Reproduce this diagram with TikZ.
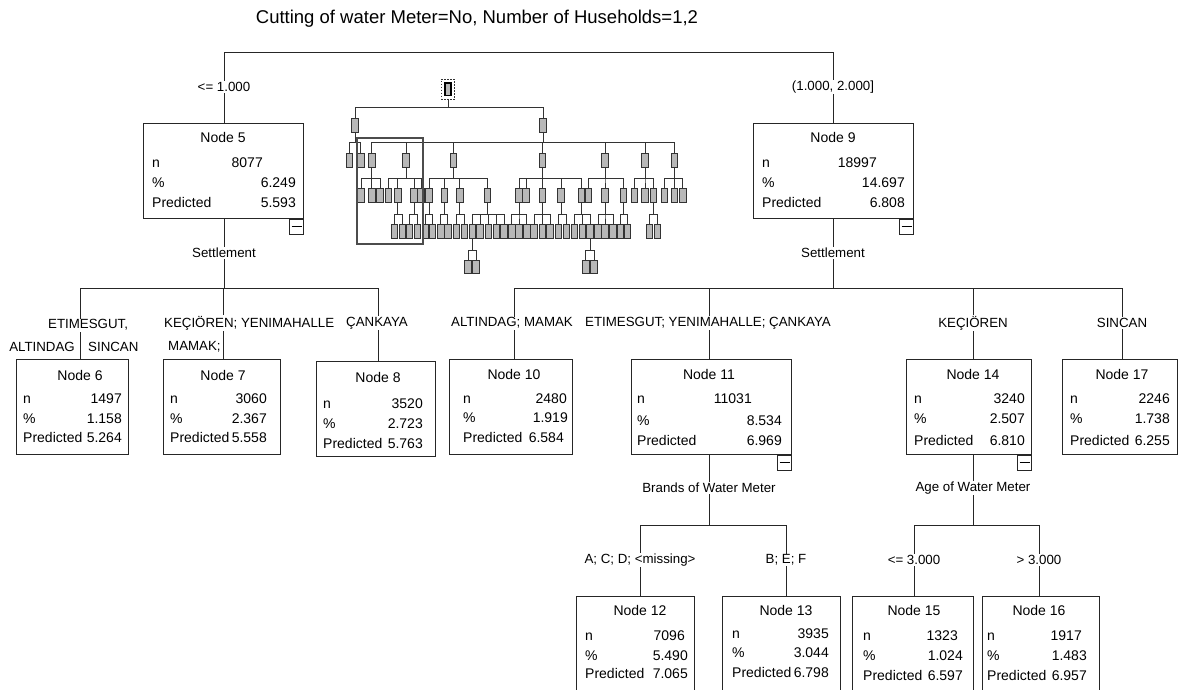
\documentclass[tikz,border=0pt]{standalone}
\usepackage{fontspec}
\setmainfont{Liberation Sans}
\newcommand\tboxrow[6]{\node[txt] (#1l) at (#4,#6+5) {#2}; \node[val] (#1v) at (#5,#6+5) {#3};}
\newcommand\mgrp[5]{%
  \foreach \cx [count=\ci] in {#5} {%
    \node[mbox, anchor=north] (#2\ci) at (\cx,#4) {};
    \draw[mline] (#1.south) -- (#1.south |- 0,#3) -| (#2\ci.north);
  }}
\begin{document}
\begin{tikzpicture}[x=1pt,y=-1pt,
  every node/.style={font=\fontsize{14}{16}\selectfont, inner sep=0pt},
  ln/.style={draw=black!85, line width=0.9pt},
  box/.style={draw=black!85, line width=0.9pt, fill=white, anchor=north west, inner sep=0pt},
  lab/.style={fill=white, inner sep=1pt, font=\fontsize{13.3}{15}\selectfont},
  txt/.style={anchor=base west},
  val/.style={anchor=base east},
  ttl/.style={anchor=base},
  btn/.style={draw=black!85, line width=0.8pt, fill=white, minimum width=14pt, minimum height=15pt, anchor=north east},
  mbox/.style={draw=black!80, fill=black!28, line width=0.8pt, minimum width=6.5pt, minimum height=13.4pt, inner sep=0pt},
  mline/.style={draw=black!80, line width=0.8pt},
]
\fill[white] (0,0) rectangle (1179,689);
\useasboundingbox (0,0) rectangle (1179,689);
\clip (0,0) rectangle (1179,689);

% title
\node[font=\fontsize{18.5}{20}\selectfont] (title) at (477,19) {Cutting of water Meter=No, Number of Husehol{}ds=1,2};

% ---------- boxes ----------
\node[box, minimum width=160pt, minimum height=95pt] (n5) at (143,123) {};
\node[box, minimum width=160pt, minimum height=95pt] (n9) at (753,123) {};
\node[box, minimum width=112pt, minimum height=95pt] (n6) at (16,359) {};
\node[box, minimum width=117pt, minimum height=95pt] (n7) at (163,359) {};
\node[box, minimum width=119pt, minimum height=95pt] (n8) at (316,361) {};
\node[box, minimum width=123pt, minimum height=95pt] (n10) at (449,359) {};
\node[box, minimum width=160pt, minimum height=95pt] (n11) at (631,359) {};
\node[box, minimum width=125pt, minimum height=95pt] (n14) at (906,359) {};
\node[box, minimum width=115pt, minimum height=95pt] (n17) at (1062,359) {};
\node[box, minimum width=118pt, minimum height=110pt] (n12) at (576,596) {};
\node[box, minimum width=118pt, minimum height=110pt] (n13) at (722,596) {};
\node[box, minimum width=121pt, minimum height=110pt] (n15) at (852,596) {};
\node[box, minimum width=117pt, minimum height=110pt] (n16) at (982,596) {};

% minus buttons
\foreach \b in {n5,n9,n11,n14} {
  \node[btn] (\b btn) at (\b.south east) {};
  \draw[line width=0.9pt] ([xshift=2.5pt]\b btn.west) -- ([xshift=-2pt]\b btn.east);
}

% ---------- box contents ----------
\node[ttl] (n5t) at (223,142) {Node 5};
\tboxrow{n5n}{n}{8077}{152}{263}{162}
\tboxrow{n5p}{\%}{6.249}{152}{296}{182}
\tboxrow{n5r}{Predicted}{5.593}{152}{296}{202}

\node[ttl] (n9t) at (833,142) {Node 9};
\tboxrow{n9n}{n}{18997}{762}{877}{162}
\tboxrow{n9p}{\%}{14.697}{762}{905}{182}
\tboxrow{n9r}{Predicted}{6.808}{762}{905}{202}

\node[ttl] (n6t) at (80,380) {Node 6};
\tboxrow{n6n}{n}{1497}{23}{122}{398}
\tboxrow{n6p}{\%}{1.158}{23}{122}{418}
\tboxrow{n6r}{Predicted}{5.264}{23}{122}{437}

\node[ttl] (n7t) at (223,380) {Node 7};
\tboxrow{n7n}{n}{3060}{170}{267}{398}
\tboxrow{n7p}{\%}{2.367}{170}{267}{418}
\tboxrow{n7r}{Predicted}{5.558}{170}{267}{437}

\node[ttl] (n8t) at (378,382) {Node 8};
\tboxrow{n8n}{n}{3520}{323}{423}{403}
\tboxrow{n8p}{\%}{2.723}{323}{423}{423}
\tboxrow{n8r}{Predicted}{5.763}{323}{423}{443}

\node[ttl] (n10t) at (514,379) {Node 10};
\tboxrow{n10n}{n}{2480}{463}{567}{398}
\tboxrow{n10p}{\%}{1.919}{463}{568}{417}
\tboxrow{n10r}{Predicted}{6.584}{463}{564}{437}

\node[ttl] (n11t) at (709,379) {Node 11};
\tboxrow{n11n}{n}{11031}{637}{752}{398}
\tboxrow{n11p}{\%}{8.534}{637}{782}{420}
\tboxrow{n11r}{Predicted}{6.969}{637}{782}{440}

\node[ttl] (n14t) at (973,379) {Node 14};
\tboxrow{n14n}{n}{3240}{914}{1025}{398}
\tboxrow{n14p}{\%}{2.507}{914}{1025}{418}
\tboxrow{n14r}{Predicted}{6.810}{914}{1025}{440}

\node[ttl] (n17t) at (1122,379) {Node 17};
\tboxrow{n17n}{n}{2246}{1070}{1170}{398}
\tboxrow{n17p}{\%}{1.738}{1070}{1170}{418}
\tboxrow{n17r}{Predicted}{6.255}{1070}{1170}{440}

\node[ttl] (n12t) at (640,615) {Node 12};
\tboxrow{n12n}{n}{7096}{585}{685}{635}
\tboxrow{n12p}{\%}{5.490}{585}{688}{655}
\tboxrow{n12r}{Predicted}{7.065}{585}{688}{673}

\node[ttl] (n13t) at (786,615) {Node 13};
\tboxrow{n13n}{n}{3935}{732}{829}{633}
\tboxrow{n13p}{\%}{3.044}{732}{829}{652}
\tboxrow{n13r}{Predicted}{6.798}{732}{829}{672}

\node[ttl] (n15t) at (914,615) {Node 15};
\tboxrow{n15n}{n}{1323}{863}{958}{635}
\tboxrow{n15p}{\%}{1.024}{863}{963}{655}
\tboxrow{n15r}{Predicted}{6.597}{863}{963}{675}

\node[ttl] (n16t) at (1039,615) {Node 16};
\tboxrow{n16n}{n}{1917}{987}{1082}{635}
\tboxrow{n16p}{\%}{1.483}{987}{1087}{655}
\tboxrow{n16r}{Predicted}{6.957}{987}{1087}{675}

% ---------- connectors ----------
\coordinate (jt5) at (224,52);
\coordinate (jt9) at (833,52);
\draw[ln] (n5.north -| jt5) -- (jt5) -- (jt9) -- (n9.north -| jt9);

\coordinate (j5) at (224,288);
\coordinate (x6) at (80,0);
\coordinate (x7) at (223,0);
\coordinate (x8) at (378,0);
\draw[ln] (n5.south -| j5) -- (j5) -| (n6.north -| x6);
\draw[ln] (j5) -| (n7.north -| x7);
\draw[ln] (j5) -| (n8.north -| x8);

\coordinate (j9) at (833,288);
\coordinate (x10) at (514,0);
\coordinate (x11) at (709,0);
\coordinate (x14) at (973,0);
\coordinate (x17) at (1122,0);
\draw[ln] (n9.south -| j9) -- (j9) -| (n10.north -| x10);
\draw[ln] (j9) -| (n11.north -| x11);
\draw[ln] (j9) -| (n14.north -| x14);
\draw[ln] (j9) -| (n17.north -| x17);

\coordinate (j11) at (709,525);
\coordinate (x12) at (640,0);
\coordinate (x13) at (786,0);
\draw[ln] (n11.south -| j11) -- (j11) -| (n12.north -| x12);
\draw[ln] (j11) -| (n13.north -| x13);

\coordinate (j14) at (973,525);
\coordinate (x15) at (914,0);
\coordinate (x16) at (1039,0);
\draw[ln] (n14.south -| j14) -- (j14) -| (n15.north -| x15);
\draw[ln] (j14) -| (n16.north -| x16);

% ---------- labels ----------
\node[lab] (l5) at (224,87) {<= 1.000};
\node[lab] (l9) at (833,87) {(1.000, 2.000]};
\node[lab] (s5) at (224,253) {Settlement};
\node[lab] (s9) at (833,253) {Settlement};
\node[lab, anchor=west] (l6a) at (47,325) {ETIMESGUT,};
\node[lab, anchor=east] (l6b) at (76,347) {ALTINDAG};
\node[lab, anchor=west] (l6c) at (87,347) {SINCAN};
\node[lab, anchor=west] (l7a) at (163,323) {KEÇIÖREN; YENIMAHALLE};
\node[lab, anchor=west] (l7b) at (167,347) {MAMAK;};
\node[lab] (l8) at (377,323) {ÇANKAYA};
\node[lab] (l10) at (512,323) {ALTINDAG; MAMAK};
\node[lab] (l11) at (708,323) {ETIMESGUT; YENIMAHALLE; ÇANKAYA};
\node[lab] (l14) at (973,323) {KEÇIÖREN};
\node[lab] (l17) at (1122,323) {SINCAN};
\node[lab] (s11) at (709,488) {Brands of Water Meter};
\node[lab] (s14) at (973,488) {Age of Water Meter};
\node[lab] (l12) at (640,560) {A; C; D; <missing>};
\node[lab] (l13) at (786,560) {B; E; F};
\node[lab] (l15) at (914,560) {<= 3.000};
\node[lab] (l16) at (1039,560) {> 3.000};

% ---------- mini map ----------
\node[mbox, draw=black, line width=1.6pt, minimum width=6pt, minimum height=12.5pt] (r0) at (448,89.2) {};
\node[draw=black!80, dash pattern=on 1.5pt off 1.5pt, line width=0.8pt, minimum width=13.3pt, minimum height=20pt] (r0f) at (448,89.3) {};
\mgrp{r0f}{a}{107.3}{118.3}{355,543}
\mgrp{a1}{ba}{142.5}{153.3}{349.3,360.7}
\mgrp{a2}{bb}{142.5}{153.3}{371.7,406,453.3,542.3,605,645,674.3}
\mgrp{bb1}{ca}{178.3}{188.3}{361,371.7,380}
\mgrp{bb2}{cb}{178.3}{188.3}{388.3,397.7,414,421}
\mgrp{bb3}{cc}{178.3}{188.3}{429,444.3,459.7,487.3}
\mgrp{bb4}{cd}{178.3}{188.3}{519,526,542.3,561,581.3}
\mgrp{bb5}{ce}{178.3}{188.3}{588.3,605,623.5}
\mgrp{bb6}{cf}{178.3}{188.3}{634.2,645,653.3}
\mgrp{bb7}{cg}{178.3}{188.3}{664.2,674.3,682.7}
\mgrp{cb2}{da}{214}{224.3}{394.3,402.3}
\mgrp{cb3}{db}{214}{224.3}{409.3,417.3}
\mgrp{cc1}{dc}{214}{224.3}{425.5,432.3}
\mgrp{cc2}{dd}{214}{224.3}{440.8,447.7}
\mgrp{cc3}{de}{214}{224.3}{456.3,464.3}
\mgrp{cc4}{df}{214}{224.3}{472.5,480,488.3,496.5,504}
\mgrp{cd1}{dg}{214}{224.3}{511.7,519,526.7}
\mgrp{cd3}{dh}{214}{224.3}{534,542.3,550}
\mgrp{cd4}{di}{214}{224.3}{558.5,566.5}
\mgrp{cd5}{dj}{214}{224.3}{574.3,582.3,590}
\mgrp{ce2}{dk}{214}{224.3}{598,605,613}
\mgrp{ce3}{dl}{214}{224.3}{620.3,627.5}
\mgrp{cf3}{dm}{214}{224.3}{649.5,657.5}
\mgrp{df1}{ea}{250}{260}{468,476}
\mgrp{dj3}{eb}{250}{260}{585.7,594}
\node[draw=black!70, line width=2pt, minimum width=65.7pt, minimum height=106pt, anchor=north west] (vp) at (356,136.7) {};
\end{tikzpicture}
\end{document}
